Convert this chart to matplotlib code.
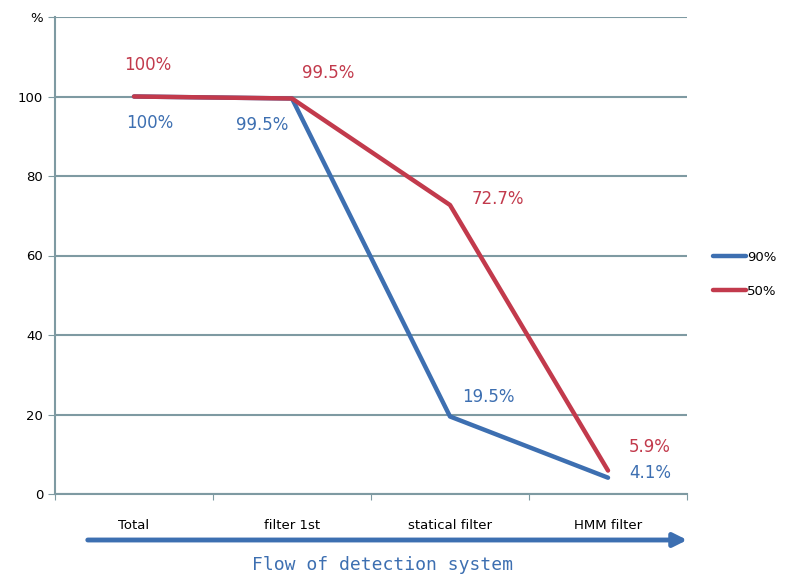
import matplotlib
matplotlib.use('Agg')
import matplotlib.pyplot as plt

# data
stages = ['Total', 'filter 1st', 'statical filter', 'HMM filter']
rate_90 = [100, 99.5, 19.5, 4.1]
rate_50 = [100, 99.5, 72.7, 5.9]
labels_90 = ['100%', '99.5%', '19.5%', '4.1%']
labels_50 = ['100%', '99.5%', '72.7%', '5.9%']
yticks = [0, 20, 40, 60, 80, 100, 120]
yticklabels = ['0', '20', '40', '60', '80', '100', '%']

blue = '#3d6fb1'
red = '#c23a4c'
grid_c = '#7e9aa2'

fig = plt.figure(figsize=(7.87, 5.79), dpi=100)
ax = fig.add_axes([55/787, 85/579, 632/787, 477/579])

xs = [0.5, 1.5, 2.5, 3.5]
ax.plot(xs, rate_90, color=blue, lw=3.2, label='90%', solid_capstyle='round')
ax.plot(xs, rate_50, color=red, lw=3.2, label='50%', solid_capstyle='round')

# data labels (offsets in pixels)
off_50 = [(14, 31), (36, 25), (48, 6), (42, 24)]
off_90 = [(16, -27), (-30, -27), (38, 19), (42, 5)]
for x, y, t, o in zip(xs, rate_50, labels_50, off_50):
    ax.annotate(t, (x, y), xytext=o, textcoords='offset pixels',
                ha='center', va='center', color=red, fontsize=12)
for x, y, t, o in zip(xs, rate_90, labels_90, off_90):
    ax.annotate(t, (x, y), xytext=o, textcoords='offset pixels',
                ha='center', va='center', color=blue, fontsize=12)

ax.set_xlim(0, 4)
ax.set_ylim(0, 120)
ax.set_yticks(yticks)
ax.set_yticklabels(yticklabels, fontsize=9.5)
ax.set_xticks([0, 1, 2, 3, 4])
ax.set_xticklabels([])
ax.set_xticks(xs, minor=True)
ax.set_xticklabels(stages, minor=True, fontsize=9.5)
ax.tick_params(axis='x', which='minor', length=0, pad=18)
ax.tick_params(axis='x', which='major', length=4, color=grid_c, direction='out')
ax.tick_params(axis='y', length=5, color=grid_c, direction='out')
ax.yaxis.grid(True, color=grid_c, lw=1.5)
ax.set_axisbelow(True)
for s in ['top', 'right']:
    ax.spines[s].set_visible(False)
for s in ['left', 'bottom']:
    ax.spines[s].set_color(grid_c)
    ax.spines[s].set_linewidth(1.5)

leg = ax.legend(loc='center left', bbox_to_anchor=(1.022, 0.461), frameon=False,
                fontsize=9.5, handlelength=2.5, handletextpad=0.1, labelspacing=1.6)

# flow arrow
ax.annotate('', xy=(690/787, 39/579), xytext=(85/787, 39/579),
            xycoords='figure fraction', textcoords='figure fraction',
            arrowprops=dict(arrowstyle='-|>,head_length=0.8,head_width=0.4',
                            color=blue, lw=3.5))
fig.text(383/787, 14/579, 'Flow of detection system', ha='center', va='center',
         color=blue, fontsize=13, family='DejaVu Sans Mono')

fig.savefig('out.png', dpi=100)
